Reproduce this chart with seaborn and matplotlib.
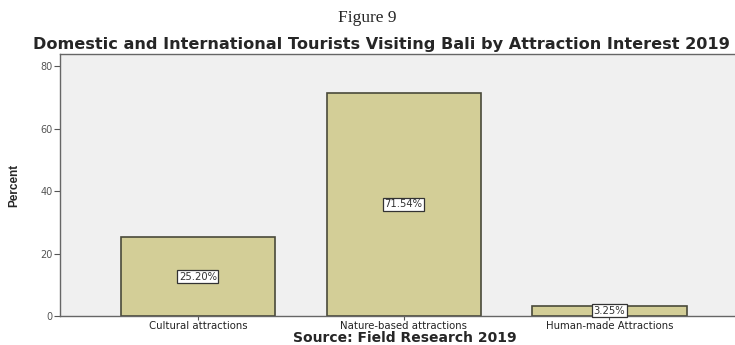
import matplotlib
matplotlib.use("Agg")
import matplotlib.pyplot as plt
import seaborn as sns
import pandas as pd

categories = ["Cultural attractions", "Nature-based attractions", "Human-made Attractions"]
percent = [25.20, 71.54, 3.25]
y_ticks = [0, 20, 40, 60, 80]

df = pd.DataFrame({"category": categories, "percent": percent})

sns.set_style("white")
plt.rcParams["font.family"] = ["DejaVu Sans"]

fig = plt.figure(figsize=(7.35, 3.45), dpi=100)
ax = fig.add_axes([60 / 735, 1 - 316 / 345, 675 / 735, 262 / 345])
ax.set_facecolor("#F0F0F0")

sns.barplot(data=df, x="category", y="percent", ax=ax, color="#D3CE97",
            width=0.75, edgecolor="#4A4A3A", linewidth=1.2, saturation=1)

ax.set_xlim(-0.67, 2.61)
ax.set_ylim(0, 84)
ax.set_yticks(y_ticks)
ax.set_yticklabels([str(t) for t in y_ticks], fontsize=7, color="#555555")
ax.set_xticks(range(len(categories)))
ax.set_xticklabels(categories, fontsize=7.3, color="#222222")
ax.tick_params(axis="y", direction="out", length=4, width=0.8, color="#555555", pad=1.5, left=True)
ax.tick_params(axis="x", direction="out", length=3, width=0.8, color="#555555", pad=0.5, bottom=True)

for side in ["left", "bottom", "top"]:
    ax.spines[side].set_visible(True)
    ax.spines[side].set_color("#666666")
    ax.spines[side].set_linewidth(1.0)
ax.spines["right"].set_visible(False)

ax.set_xlabel("")
ax.set_ylabel("Percent", fontsize=8.5, fontweight="bold", labelpad=14,
              family=["Liberation Sans Narrow", "Liberation Sans", "DejaVu Sans"])

for i, v in enumerate(percent):
    ax.text(i, v / 2, f"{v:.2f}%", ha="center", va="center", fontsize=7.2, color="#333333",
            bbox=dict(boxstyle="square,pad=0.15", facecolor="white", edgecolor="#333333", linewidth=0.9))

fig.text(0.5, 1 - 18 / 345, "Figure 9", ha="center", va="center", fontsize=12.5,
         family=["Liberation Serif", "DejaVu Serif"])
fig.text(0.519, 1 - 45 / 345,
         "Domestic and International Tourists Visiting Bali by Attraction Interest 2019",
         ha="center", va="center", fontsize=11.6, fontweight="bold")
fig.text(0.551, 1 - 338.5 / 345, "Source: Field Research 2019",
         ha="center", va="center", fontsize=10, fontweight="bold")

fig.savefig("out.png", dpi=100)
